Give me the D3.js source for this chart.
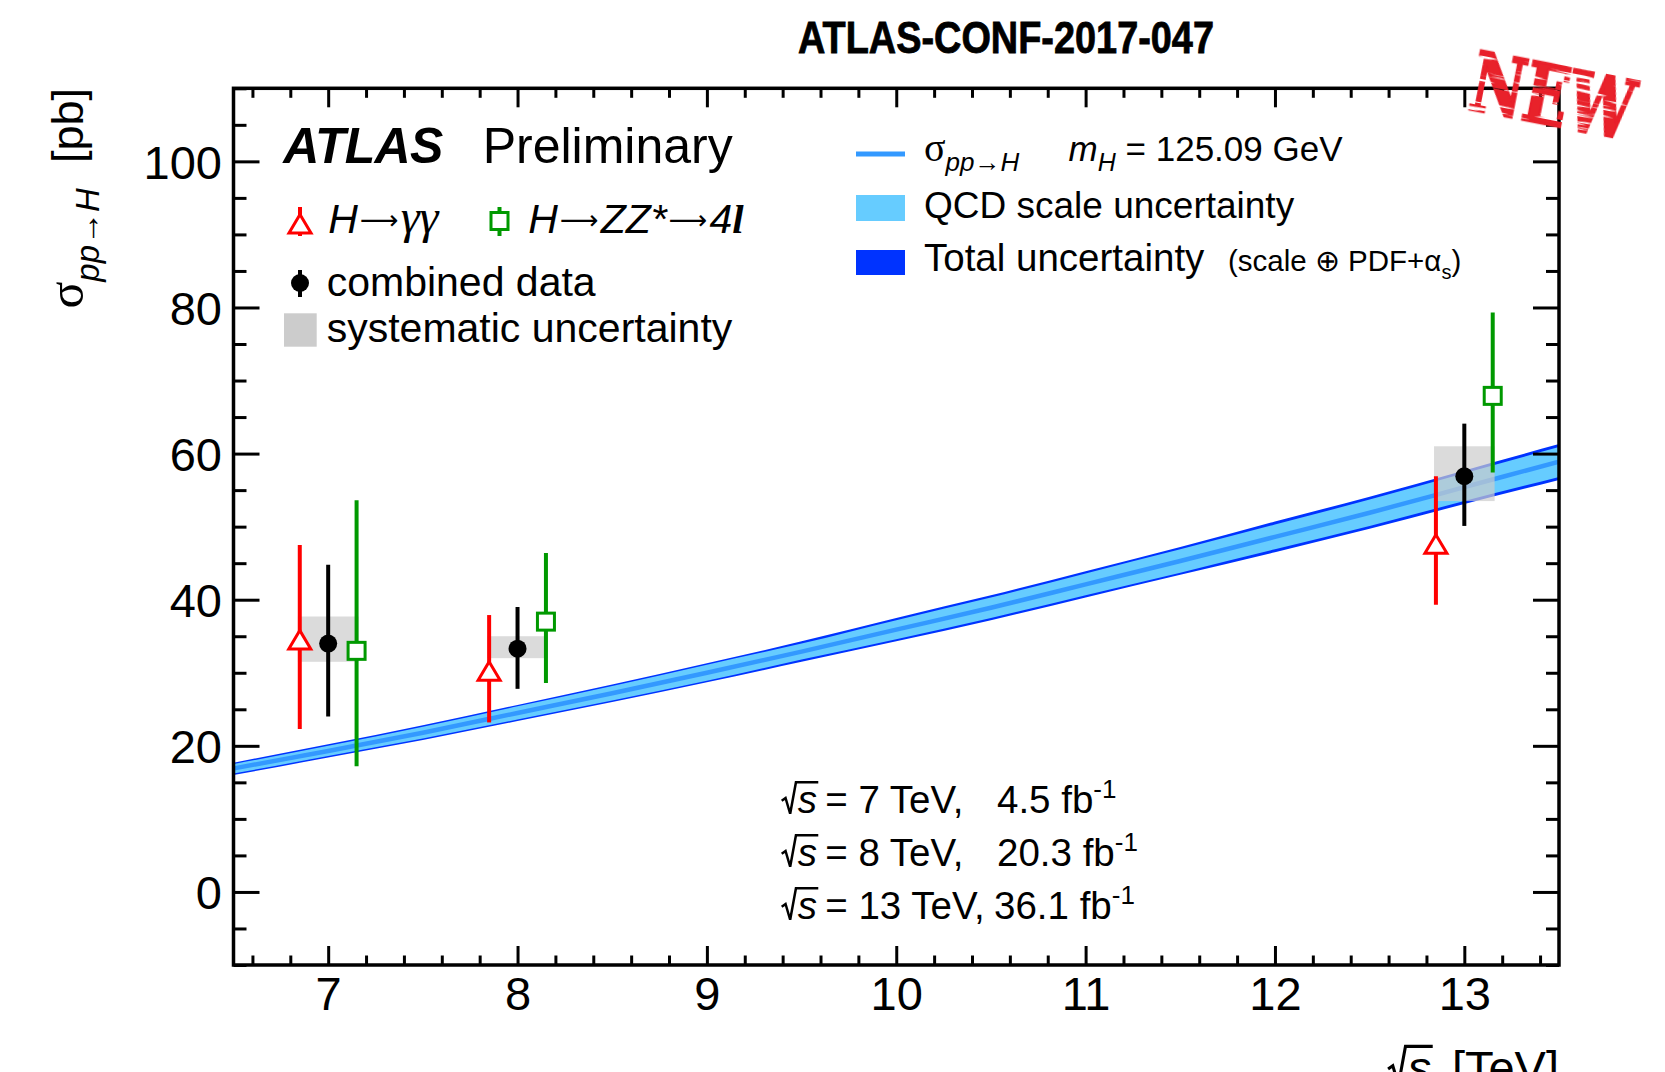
<!DOCTYPE html>
<html>
<head>
<meta charset="utf-8">
<script src="https://cdn.jsdelivr.net/npm/d3@7"></script>
<style>
  html, body { margin: 0; padding: 0; background: #fff; }
  svg { display: block; font-family: "Liberation Sans", Arial, Helvetica, sans-serif; }
</style>
</head>
<body>
<svg id="chart" width="1665" height="1072"></svg>
<script>
// ---------------- data ----------------
// Theory prediction for the total pp -> H cross section (pb), mH = 125.09 GeV
const energies   = [6.5, 7.0, 7.5, 8.0, 8.5, 9.0, 9.5, 10.0, 10.5, 11.0, 11.5, 12.0, 12.5, 13.0, 13.5];
const xsCentral  = [16.9, 19.3, 21.8, 24.5, 27.2, 30.0, 32.9, 35.9, 38.9, 42.1, 45.3, 48.6, 51.9, 55.4, 58.9];
const xsScaleLo  = [16.2, 18.6, 21.0, 23.6, 26.2, 28.9, 31.8, 34.6, 37.5, 40.6, 43.7, 46.9, 50.1, 53.5, 56.8];
const xsScaleHi  = [17.5, 20.0, 22.6, 25.4, 28.2, 31.1, 34.0, 37.2, 40.3, 43.6, 46.9, 50.3, 53.7, 57.3, 60.9];
const xsTotalLo  = [16.0, 18.4, 20.8, 23.4, 26.0, 28.7, 31.5, 34.3, 37.2, 40.3, 43.4, 46.5, 49.7, 53.1, 56.4];
const xsTotalHi  = [17.7, 20.2, 22.8, 25.6, 28.4, 31.3, 34.3, 37.5, 40.6, 43.9, 47.2, 50.7, 54.1, 57.7, 61.3];

// Measurements at each centre-of-mass energy (TeV)
const sqrtS      = [7, 8, 13];
const gamgamXs   = [34.5, 30.2, 47.6];
const gamgamLo   = [22.3, 23.2, 39.3];
const gamgamHi   = [47.5, 37.9, 56.9];
const zzXs       = [33.0, 37.0, 67.9];
const zzLo       = [17.2, 28.6, 57.4];
const zzHi       = [53.6, 46.4, 79.3];
const combXs     = [34.0, 33.3, 56.9];
const combLo     = [24.0, 27.8, 50.1];
const combHi     = [44.8, 39.0, 64.1];
const combSysLo  = [31.5, 32.0, 53.5];
const combSysHi  = [37.7, 35.0, 61.0];

// Axis ticks
const xTickLabels = [7, 8, 9, 10, 11, 12, 13];
const yTickLabels = [0, 20, 40, 60, 80, 100];

// Integrated luminosities shown in the annotation
const lumiEnergy = ["7", "8", "13"];
const lumiValue  = ["4.5", "20.3", "36.1"];

// ---------------- layout ----------------
const svg = d3.select("#chart");
const frame = { left: 233.5, right: 1559, top: 88.3, bottom: 965 };
const x = d3.scaleLinear().domain([6.5, 13.5]).range([frame.left, frame.right]);
const y = d3.scaleLinear().domain([-10, 110]).range([frame.bottom, frame.top]);

const channelShift = 0.15;   // horizontal offset of the individual channels
const sysHalfWidth = 0.16;   // half width of the systematic boxes (TeV)

const C = {
  total: "#0033ff", scale: "#66ccff", central: "#3399ff",
  red: "#ff0000", green: "#009900", sys: "#cccccc", stamp: "#e8202a"
};

const defs = svg.append("defs");
defs.append("clipPath").attr("id", "plotArea")
  .append("rect")
  .attr("x", frame.left).attr("y", frame.top)
  .attr("width", frame.right - frame.left).attr("height", frame.bottom - frame.top);

// worn rubber-stamp look for the "NEW" badge
const wear = defs.append("filter").attr("id", "stampWear")
  .attr("x", "-10%").attr("y", "-20%").attr("width", "120%").attr("height", "140%");
wear.append("feTurbulence").attr("type", "fractalNoise")
  .attr("baseFrequency", "0.02 0.3").attr("numOctaves", 2).attr("seed", 7).attr("result", "noise");
wear.append("feColorMatrix").attr("in", "noise").attr("type", "matrix")
  .attr("values", "0 0 0 0 0  0 0 0 0 0  0 0 0 0 0  -10 0 0 0 6.9").attr("result", "mask");
wear.append("feComposite").attr("in", "SourceGraphic").attr("in2", "mask").attr("operator", "in");

svg.append("rect").attr("width", 1665).attr("height", 1072).attr("fill", "#fff");

const plot = svg.append("g").attr("clip-path", "url(#plotArea)");

// ---------------- theory band ----------------
const bandRows = energies.map((e, i) => ({
  e, c: xsCentral[i], sLo: xsScaleLo[i], sHi: xsScaleHi[i], tLo: xsTotalLo[i], tHi: xsTotalHi[i]
}));
const curve = d3.curveMonotoneX;
plot.append("path").datum(bandRows)
  .attr("d", d3.area().x(d => x(d.e)).y0(d => y(d.tLo)).y1(d => y(d.tHi)).curve(curve))
  .attr("fill", C.total);
plot.append("path").datum(bandRows)
  .attr("d", d3.area().x(d => x(d.e)).y0(d => y(d.sLo)).y1(d => y(d.sHi)).curve(curve))
  .attr("fill", C.scale);
plot.append("path").datum(bandRows)
  .attr("d", d3.line().x(d => x(d.e)).y(d => y(d.c)).curve(curve))
  .attr("fill", "none").attr("stroke", C.central).attr("stroke-width", 4.5);

// ---------------- systematic boxes of the combination ----------------
const combRows = sqrtS.map((e, i) => ({
  e, v: combXs[i], lo: combLo[i], hi: combHi[i], sLo: combSysLo[i], sHi: combSysHi[i]
}));
plot.selectAll("rect.sys").data(combRows).join("rect")
  .attr("class", "sys")
  .attr("x", d => x(d.e - sysHalfWidth))
  .attr("width", d => x(d.e + sysHalfWidth) - x(d.e - sysHalfWidth))
  .attr("y", d => y(d.sHi))
  .attr("height", d => y(d.sLo) - y(d.sHi))
  .attr("fill", C.sys).attr("fill-opacity", 0.7);

// ---------------- markers ----------------
function marker(g, type, cx, cy, color) {
  if (type === "triangle") {
    g.append("path")
      .attr("d", `M${cx},${cy - 9.5} L${cx + 11},${cy + 9} L${cx - 11},${cy + 9} Z`)
      .attr("fill", "#fff").attr("stroke", color).attr("stroke-width", 3);
  } else if (type === "square") {
    g.append("rect").attr("x", cx - 8.5).attr("y", cy - 8.5).attr("width", 17).attr("height", 17)
      .attr("fill", "#fff").attr("stroke", color).attr("stroke-width", 3);
  } else {
    g.append("circle").attr("cx", cx).attr("cy", cy).attr("r", 9).attr("fill", color);
  }
}

const channels = [
  { shift: -channelShift, xs: gamgamXs, lo: gamgamLo, hi: gamgamHi, color: C.red,   type: "triangle" },
  { shift:  channelShift, xs: zzXs,     lo: zzLo,     hi: zzHi,     color: C.green, type: "square" },
  { shift:  0,            xs: combXs,   lo: combLo,   hi: combHi,   color: "#000",  type: "dot" }
];
channels.forEach(ch => {
  const g = plot.append("g");
  const rows = sqrtS.map((e, i) => ({ e: e + ch.shift, v: ch.xs[i], lo: ch.lo[i], hi: ch.hi[i] }));
  g.selectAll("line").data(rows).join("line")
    .attr("x1", d => x(d.e)).attr("x2", d => x(d.e))
    .attr("y1", d => y(d.lo)).attr("y2", d => y(d.hi))
    .attr("stroke", ch.color).attr("stroke-width", 4);
  rows.forEach(d => marker(g, ch.type, x(d.e), y(d.v), ch.color));
});

// ---------------- axes and frame ----------------
const FONT = "Liberation Sans, Arial, Helvetica, sans-serif";
function styleAxis(g) {
  g.attr("font-family", null).attr("font-size", null);
  g.select(".domain").remove();
  g.selectAll("line").attr("stroke", "#000").attr("stroke-width", 3);
  g.selectAll("text").attr("font-size", 47).attr("fill", "#000").attr("font-family", FONT);
}
const yMinor = d3.range(-2, 23).map(k => k * 5).filter(v => v % 20 !== 0);
const xMinor = d3.range(33, 68).map(k => k / 5).filter(v => Math.abs(v - Math.round(v)) > 1e-6);

svg.append("g").attr("transform", `translate(${frame.left},0)`)
  .call(d3.axisLeft(y).tickValues(yMinor).tickSize(-13).tickFormat("")).call(styleAxis);
svg.append("g").attr("transform", `translate(${frame.left},0)`)
  .call(d3.axisLeft(y).tickValues(yTickLabels).tickSize(-26).tickPadding(11.5).tickFormat(d3.format("d")))
  .call(styleAxis)
  .selectAll("text").attr("dy", "0.36em");
svg.append("g").attr("transform", `translate(${frame.right},0)`)
  .call(d3.axisRight(y).tickValues(yMinor).tickSize(-13).tickFormat("")).call(styleAxis);
svg.append("g").attr("transform", `translate(${frame.right},0)`)
  .call(d3.axisRight(y).tickValues(yTickLabels).tickSize(-26).tickFormat("")).call(styleAxis);

svg.append("g").attr("transform", `translate(0,${frame.bottom})`)
  .call(d3.axisBottom(x).tickValues(xMinor).tickSize(-9.5).tickFormat("")).call(styleAxis);
svg.append("g").attr("transform", `translate(0,${frame.bottom})`)
  .call(d3.axisBottom(x).tickValues(xTickLabels).tickSize(-19).tickPadding(11.7).tickFormat(d3.format("d")))
  .call(styleAxis);
svg.append("g").attr("transform", `translate(0,${frame.top})`)
  .call(d3.axisTop(x).tickValues(xMinor).tickSize(-9.5).tickFormat("")).call(styleAxis);
svg.append("g").attr("transform", `translate(0,${frame.top})`)
  .call(d3.axisTop(x).tickValues(xTickLabels).tickSize(-19).tickFormat("")).call(styleAxis);

svg.append("rect")
  .attr("x", frame.left).attr("y", frame.top)
  .attr("width", frame.right - frame.left).attr("height", frame.bottom - frame.top)
  .attr("fill", "none").attr("stroke", "#000").attr("stroke-width", 3.5);

// ---------------- text helpers ----------------
function txt(g, px, py, size, str) {
  return g.append("text").attr("x", px).attr("y", py).attr("font-size", size).attr("fill", "#000").text(str);
}
// radical sign over an italic "s"; returns the x where the overbar ends
function sqrtSymbol(g, x0, base, size) {
  const s = g.append("text").attr("x", x0 + 0.42 * size).attr("y", base)
    .attr("font-size", size).attr("font-style", "italic").text("s");
  const end = x0 + 0.42 * size + s.node().getComputedTextLength() + 0.03 * size;
  g.append("path")
    .attr("d", `M${x0},${base - 0.32 * size} L${x0 + 0.1 * size},${base - 0.39 * size} ` +
               `L${x0 + 0.22 * size},${base + 0.02 * size} L${x0 + 0.37 * size},${base - 0.8 * size} ` +
               `L${end},${base - 0.8 * size}`)
    .attr("fill", "none").attr("stroke", "#000").attr("stroke-width", 0.065 * size)
    .attr("stroke-linejoin", "miter");
  return end;
}
// long thin arrow inside a legend label, followed by the next piece of text
function arrowThen(t, next) {
  t.append("tspan").attr("font-family", "DejaVu Sans, sans-serif").attr("font-style", "normal")
    .attr("font-size", 27).attr("dy", -4).attr("dx", 2).text("⟶");
  return t.append("tspan").attr("dy", 4).attr("dx", 2).text(next);
}

const ann = svg.append("g");

// title
ann.append("text").attr("x", 798).attr("y", 53.3).attr("font-size", 44).attr("font-weight", "bold")
  .attr("stroke", "#000").attr("stroke-width", 0.8)
  .attr("textLength", 416).attr("lengthAdjust", "spacingAndGlyphs").text("ATLAS-CONF-2017-047");

// y-axis title
const yt = ann.append("text").attr("transform", "translate(83,88) rotate(-90)")
  .attr("text-anchor", "end").attr("font-size", 45);
yt.append("tspan").attr("font-size", 50).attr("font-family", "Liberation Serif, serif").text("σ");
yt.append("tspan").attr("font-size", 33).attr("font-style", "italic").attr("dy", 16).text("pp→H");
yt.append("tspan").attr("dy", -16).attr("style", "white-space:pre").text("  [pb]");

// x-axis title (bottom right)
{
  const size = 47, base = 1084;
  const t = txt(ann, frame.right, base, size, "[TeV]").attr("text-anchor", "end");
  const tx = t.node().getBBox().x;
  const probe = txt(ann, 0, -100, size, "s").attr("font-style", "italic");
  const sw = probe.node().getComputedTextLength();
  probe.remove();
  const start = tx - 0.28 * size - (0.45 * size + sw) - 6;
  sqrtSymbol(ann, start, base, size);
}

// ATLAS label
txt(ann, 283.3, 163.3, 50, "ATLAS").attr("font-weight", "bold").attr("font-style", "italic")
  .attr("textLength", 160).attr("lengthAdjust", "spacing");
txt(ann, 482.7, 163.3, 50, "Preliminary");

// left legend
const legL = svg.append("g");
legL.append("line").attr("x1", 300).attr("x2", 300).attr("y1", 207).attr("y2", 236)
  .attr("stroke", C.red).attr("stroke-width", 4);
marker(legL, "triangle", 300, 224, C.red);
{
  const t = txt(legL, 328.3, 233.3, 41, "").attr("font-style", "italic");
  t.append("tspan").text("H");
  arrowThen(t, "γγ").attr("font-family", "Liberation Serif, serif").attr("font-size", 48);
}
legL.append("line").attr("x1", 499.5).attr("x2", 499.5).attr("y1", 207).attr("y2", 236)
  .attr("stroke", C.green).attr("stroke-width", 4);
marker(legL, "square", 499.5, 221, C.green);
{
  const t = txt(legL, 528.3, 233.3, 41, "").attr("font-style", "italic");
  t.append("tspan").text("H");
  arrowThen(t, "ZZ*");
  arrowThen(t, "4");
  t.append("tspan").attr("font-family", "Liberation Serif, serif").attr("font-weight", "bold").text("l");
}
legL.append("line").attr("x1", 300).attr("x2", 300).attr("y1", 270).attr("y2", 297)
  .attr("stroke", "#000").attr("stroke-width", 4);
marker(legL, "dot", 300, 283, "#000");
txt(legL, 326.7, 296, 41, "combined data");
legL.append("rect").attr("x", 284).attr("y", 313.3).attr("width", 32.7).attr("height", 33.4).attr("fill", C.sys);
txt(legL, 326.7, 342, 41, "systematic uncertainty");

// right legend
const legR = svg.append("g");
legR.append("line").attr("x1", 856).attr("x2", 905).attr("y1", 154).attr("y2", 154)
  .attr("stroke", C.central).attr("stroke-width", 5);
{
  const t = txt(legR, 924, 161, 37, "");
  t.append("tspan").attr("font-family", "Liberation Serif, serif").attr("font-size", 40).text("σ");
  t.append("tspan").attr("font-size", 26).attr("font-style", "italic").attr("dy", 10).text("pp→H");
  const m = txt(legR, 1068.6, 161, 35, "");
  m.append("tspan").attr("font-style", "italic").text("m");
  m.append("tspan").attr("font-size", 25).attr("font-style", "italic").attr("dy", 10).text("H");
  m.append("tspan").attr("dy", -10).attr("style", "white-space:pre").text(" = 125.09 GeV");
}
legR.append("rect").attr("x", 856).attr("y", 195).attr("width", 49).attr("height", 26).attr("fill", C.scale);
txt(legR, 924, 218, 37, "QCD scale uncertainty");
legR.append("rect").attr("x", 856).attr("y", 250).attr("width", 49).attr("height", 25).attr("fill", C.total);
txt(legR, 924, 271, 38.5, "Total uncertainty");
{
  const t = txt(legR, 1228, 271, 29.5, "(scale ⊕ PDF+α");
  t.append("tspan").attr("font-size", 20).attr("dy", 8).text("s");
  t.append("tspan").attr("dy", -8).text(")");
}

// energies and luminosities
const lumi = svg.append("g");
const lumiBase = [813, 866, 919];
lumiEnergy.forEach((e, i) => {
  const size = 38.5, b = lumiBase[i];
  const end = sqrtSymbol(lumi, 781.7, b, size);
  lumi.append("text").attr("x", end + 7).attr("y", b).attr("font-size", size)
    .text(`= ${e} TeV,`);
  const t = txt(lumi, i === 2 ? 994 : 997, b, size, `${lumiValue[i]} fb`);
  t.append("tspan").attr("font-size", 26).attr("dy", -15).text("-1");
});

// "NEW" badge
const stamp = svg.append("g").attr("transform", "translate(1553,95) rotate(11)");
stamp.append("g").attr("filter", "url(#stampWear)")
  .append("text").attr("x", 0).attr("y", 30).attr("text-anchor", "middle")
  .attr("font-family", "DejaVu Serif, Liberation Serif, serif").attr("font-weight", "bold")
  .attr("font-size", 82).attr("textLength", 164).attr("lengthAdjust", "spacingAndGlyphs")
  .attr("fill", C.stamp).attr("stroke", C.stamp).attr("stroke-width", 2.5).text("NEW");
</script>
</body>
</html>
